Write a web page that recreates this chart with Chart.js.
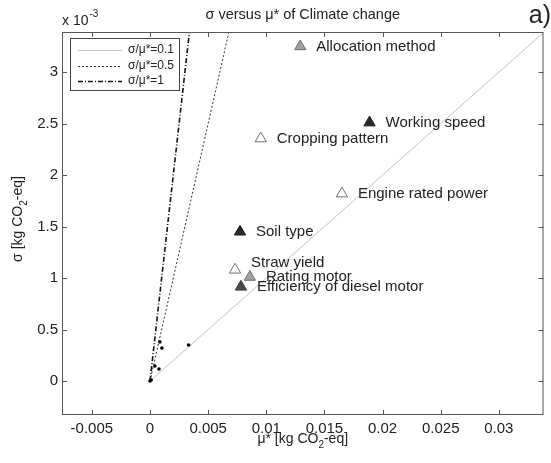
<!DOCTYPE html>
<html><head><meta charset="utf-8">
<script src="https://cdn.jsdelivr.net/npm/chart.js@4.4.0/dist/chart.umd.min.js"></script>
<style>html,body{margin:0;padding:0;background:#fff}#wrap{width:551px;height:463px;position:relative}</style>
</head><body><div id="wrap"><canvas id="c"></canvas></div>
<script>
// ---- data ----
const factorNames = ['Allocation method','Working speed','Cropping pattern','Engine rated power','Soil type','Straw yield','Rating motor','Efficiency of diesel motor'];
const factorMu    = [0.01292, 0.01888, 0.00952, 0.0165, 0.00774, 0.00731, 0.00859, 0.00782];
const factorSigma = [3.25e-3, 2.51e-3, 2.355e-3, 1.82e-3, 1.45e-3, 1.08e-3, 1.01e-3, 0.915e-3];
const factorShade = ['grey','dark','open','open','dark','open','grey','darkgrey'];
const minorMu    = [0.00332, 0.00085, 0.00102, 0.00042, 0.00077, 0.0001, 0.0];
const minorSigma = [0.35e-3, 0.38e-3, 0.32e-3, 0.146e-3, 0.117e-3, 0.01e-3, 0.0];
const ratios = [0.1, 0.5, 1];
const ratioLabels = ['σ/μ*=0.1','σ/μ*=0.5','σ/μ*=1'];
const xTicks = [-0.005, 0, 0.005, 0.01, 0.015, 0.02, 0.025, 0.03];
const yTicks = [0, 0.5e-3, 1e-3, 1.5e-3, 2e-3, 2.5e-3, 3e-3];
const yTickLabels = ['0','0.5','1','1.5','2','2.5','3'];
const xMin = -0.00757, xMax = 0.03384, yMin = -0.33e-3, yMax = 3.39e-3;

// ---- styles ----
const FONT = '"Liberation Sans", Arial, sans-serif';
const shadeStyle = {
  grey:     {fill:'#a0a0a0', stroke:'#707070'},
  dark:     {fill:'#2a2a2a', stroke:'#1a1a1a'},
  darkgrey: {fill:'#4a4a4a', stroke:'#333333'},
  open:     {fill:'#ffffff', stroke:'#707070'}
};
const ratioStyle = [
  {color:'#c4c4c4', width:1, dash:[]},
  {color:'#333333', width:1, dash:[2,2]},
  {color:'#111111', width:1.6, dash:[5,2,1,2]}
];
const labelShift = {'Straw yield': {dx:16, dy:-7}};

const lineSets = ratios.map((r,i)=>{
  const xe = Math.min(xMax, yMax / r);
  return {
    type:'line', label: ratioLabels[i],
    data:[{x:0,y:0},{x:xe,y:xe*r}],
    borderColor: ratioStyle[i].color, borderWidth: ratioStyle[i].width,
    borderDash: ratioStyle[i].dash, pointRadius:0, fill:false, order:5
  };
});

const minorSet = {
  type:'scatter', label:'minor',
  data: minorMu.map((m,i)=>({x:m,y:minorSigma[i]})),
  pointStyle:'circle', pointRadius:1.8, backgroundColor:'#000', borderColor:'#000', borderWidth:0, order:2
};

const factorSet = {
  type:'scatter', label:'factors',
  data: factorMu.map((m,i)=>({x:m,y:factorSigma[i]})),
  pointStyle:'triangle', pointRadius:6.5, borderWidth:1,
  pointBackgroundColor: factorShade.map(s=>shadeStyle[s].fill),
  pointBorderColor: factorShade.map(s=>shadeStyle[s].stroke),
  order:1
};

const decor = {
  id:'decor',
  afterDraw(chart){
    const ctx = chart.ctx, a = chart.chartArea;
    const xs = chart.scales.x, ys = chart.scales.y;
    ctx.save();
    // box
    ctx.strokeStyle = '#555'; ctx.lineWidth = 1; ctx.setLineDash([]);
    ctx.strokeRect(a.left+0.5, a.top+0.5, a.right-a.left-1, a.bottom-a.top-1);
    // inward ticks
    ctx.beginPath();
    xTicks.forEach(v=>{ const p = Math.round(xs.getPixelForValue(v))+0.5;
      ctx.moveTo(p,a.bottom); ctx.lineTo(p,a.bottom-5);
      ctx.moveTo(p,a.top); ctx.lineTo(p,a.top+5); });
    yTicks.forEach(v=>{ const p = Math.round(ys.getPixelForValue(v))+0.5;
      ctx.moveTo(a.left,p); ctx.lineTo(a.left+5,p);
      ctx.moveTo(a.right,p); ctx.lineTo(a.right-5,p); });
    ctx.stroke();

    // point labels
    ctx.fillStyle = '#222'; ctx.font = '15px '+FONT; ctx.textBaseline = 'middle'; ctx.textAlign='left';
    const meta = chart.getDatasetMeta(chart.data.datasets.indexOf(factorSet));
    meta.data.forEach((pt,i)=>{
      const s = labelShift[factorNames[i]] || {dx:16, dy:0};
      ctx.fillText(factorNames[i], pt.x + s.dx, pt.y + s.dy);
    });

    // legend
    const lx = 70, ly = 38, lw = 109, lh = 52;
    ctx.fillStyle = '#fff'; ctx.fillRect(lx, ly, lw, lh);
    ctx.strokeStyle = '#444'; ctx.lineWidth = 1; ctx.strokeRect(lx+0.5, ly+0.5, lw, lh);
    ctx.font = '12px '+FONT; ctx.textAlign='left'; ctx.textBaseline='middle';
    ratios.forEach((r,i)=>{
      const yy = ly + 12 + i*15.5;
      ctx.strokeStyle = ratioStyle[i].color; ctx.lineWidth = ratioStyle[i].width;
      ctx.setLineDash(ratioStyle[i].dash);
      ctx.beginPath(); ctx.moveTo(78, Math.round(yy)+0.5); ctx.lineTo(122, Math.round(yy)+0.5); ctx.stroke();
      ctx.setLineDash([]);
      ctx.fillStyle = '#222'; ctx.fillText(ratioLabels[i], 128, yy);
    });

    // title
    ctx.fillStyle = '#222'; ctx.textAlign='center'; ctx.textBaseline='middle';
    ctx.font = '14.5px '+FONT;
    ctx.fillText('σ versus μ* of Climate change', (a.left+a.right)/2, 15);
    // panel letter
    ctx.font = '25px '+FONT; ctx.textAlign='right';
    ctx.fillText('a)', 551, 16);
    // exponent
    ctx.font = '14px '+FONT; ctx.textAlign='left'; ctx.textBaseline='alphabetic';
    ctx.fillText('x 10', 62, 25);
    const w10 = ctx.measureText('x 10').width;
    ctx.font = '10px '+FONT;
    ctx.fillText('-3', 62 + w10 + 1, 17);

    // axis titles with subscript
    function subTitle(parts, cx, cy){
      ctx.textBaseline='alphabetic'; ctx.textAlign='left';
      let total = 0;
      parts.forEach(p=>{ ctx.font = (p.sub?'10px ':'14px ')+FONT; total += ctx.measureText(p.t).width; });
      let x = cx - total/2;
      parts.forEach(p=>{ ctx.font = (p.sub?'10px ':'14px ')+FONT;
        ctx.fillText(p.t, x, cy + (p.sub?5:0)); x += ctx.measureText(p.t).width; });
    }
    ctx.fillStyle = '#222';
    subTitle([{t:'μ* [kg CO'},{t:'2',sub:true},{t:'-eq]'}], (a.left+a.right)/2, 443);
    ctx.save(); ctx.translate(22, 219); ctx.rotate(-Math.PI/2);
    subTitle([{t:'σ [kg CO'},{t:'2',sub:true},{t:'-eq]'}], 0, 0);
    ctx.restore();
    ctx.restore();
  }
};

new Chart(document.getElementById('c'), {
  type:'scatter',
  data:{ datasets:[factorSet, minorSet, ...lineSets] },
  options:{
    responsive:true, maintainAspectRatio:false, animation:false,
    layout:{padding:{top:32,right:2,left:0,bottom:0}},
    plugins:{legend:{display:false}, tooltip:{enabled:false}, title:{display:false}},
    scales:{
      x:{type:'linear', min:xMin, max:xMax,
        afterBuildTicks(s){ s.ticks = xTicks.map(v=>({value:v})); },
        afterFit(s){ s.height = 48; },
        grid:{display:false, drawTicks:false}, border:{display:false},
        ticks:{padding:5, color:'#222', font:{family:FONT,size:15}, maxRotation:0, autoSkip:false,
          callback:(v)=>String(v)}
      },
      y:{type:'linear', min:yMin, max:yMax,
        afterBuildTicks(s){ s.ticks = yTicks.map(v=>({value:v})); },
        afterFit(s){ s.width = 62; },
        grid:{display:false, drawTicks:false}, border:{display:false},
        ticks:{padding:4, color:'#222', font:{family:FONT,size:15}, autoSkip:false,
          callback:(v)=>{ const i = yTicks.findIndex(t=>Math.abs(t-v)<1e-9); return i>=0? yTickLabels[i] : ''; }}
      }
    }
  },
  plugins:[decor]
});
</script></body></html>
